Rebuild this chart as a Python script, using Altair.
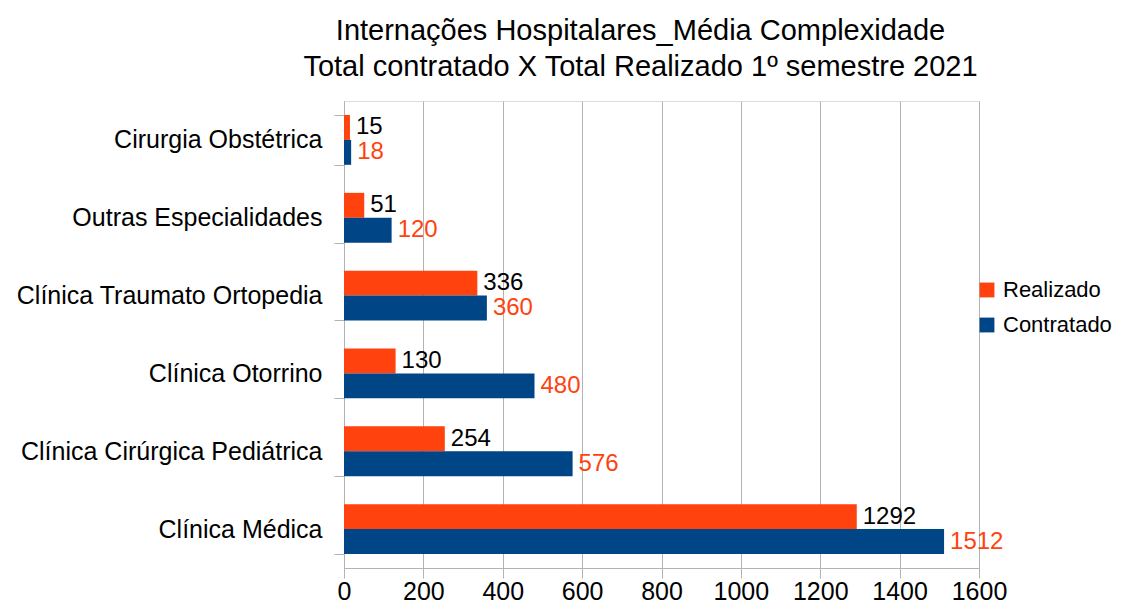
import altair as alt
import pandas as pd

categories = [
    "Cirurgia Obstétrica",
    "Outras Especialidades",
    "Clínica Traumato Ortopedia",
    "Clínica Otorrino",
    "Clínica Cirúrgica Pediátrica",
    "Clínica Médica",
]
realizado = [15, 51, 336, 130, 254, 1292]
contratado = [18, 120, 360, 480, 576, 1512]
series = ["Realizado", "Contratado"]
colors = ["#FF420E", "#004586"]
x_ticks = [0, 200, 400, 600, 800, 1000, 1200, 1400, 1600]

rows = []
for c, r, k in zip(categories, realizado, contratado):
    rows.append({"cat": c, "series": "Realizado", "value": r})
    rows.append({"cat": c, "series": "Contratado", "value": k})
df = pd.DataFrame(rows)

FONT = "Liberation Sans"
GRID = "#b3b3b3"

y_enc = alt.Y(
    "cat:N",
    sort=categories,
    title=None,
    scale=alt.Scale(paddingInner=0.36, paddingOuter=0.18),
    axis=alt.Axis(
        tickBand="extent",
        tickSize=10,
        tickColor=GRID,
        domainColor=GRID,
        labelFontSize=25,
        labelColor="black",
        labelPadding=12,
        labelFont=FONT,
        grid=False,
        labelLimit=500,
    ),
)
x_enc = alt.X(
    "value:Q",
    title=None,
    scale=alt.Scale(domain=[0, 1600], nice=False),
    axis=alt.Axis(
        values=x_ticks,
        format="d",
        tickSize=10,
        tickColor=GRID,
        gridColor=GRID,
        domainColor=GRID,
        labelFontSize=25,
        labelColor="black",
        labelPadding=1,
        labelFont=FONT,
        labelFlush=False,
    ),
)
yoff = alt.YOffset("series:N", sort=series)

bars = alt.Chart(df).mark_bar().encode(
    y=y_enc,
    x=x_enc,
    yOffset=yoff,
    color=alt.Color(
        "series:N",
        scale=alt.Scale(domain=series, range=colors),
        legend=alt.Legend(
            title=None,
            orient="none",
            legendX=632,
            legendY=178,
            symbolType="square",
            symbolSize=220,
            symbolStrokeWidth=0,
            labelFontSize=22,
            labelFont=FONT,
            labelColor="black",
            rowPadding=13,
            labelOffset=5,
        ),
    ),
)

labels = alt.Chart(df).mark_text(
    align="left", baseline="middle", dx=6, fontSize=24, font=FONT
).encode(
    y=alt.Y("cat:N", sort=categories),
    x=alt.X("value:Q"),
    yOffset=yoff,
    text=alt.Text("value:Q"),
    color=alt.condition(
        alt.datum.series == "Realizado", alt.value("black"), alt.value("#FF420E")
    ),
)

chart = (
    alt.layer(bars, labels)
    .properties(
        width=635,
        height=467,
        autosize=alt.AutoSizeParams(type="none"),
        padding={"left": 336, "top": 93, "right": 140, "bottom": 38},
        title=alt.TitleParams(
            text=[
                "Internações Hospitalares_Média Complexidade",
                "Total contratado X Total Realizado 1º semestre 2021",
            ],
            fontSize=29,
            font=FONT,
            fontWeight="normal",
            color="black",
            lineHeight=36,
            anchor="middle",
            dx=-21,
            offset=7,
        ),
    )
    .configure_view(stroke=GRID)
    .configure(background="white")
)

chart.save("out.html", embed_options={"renderer": "svg", "actions": False})
